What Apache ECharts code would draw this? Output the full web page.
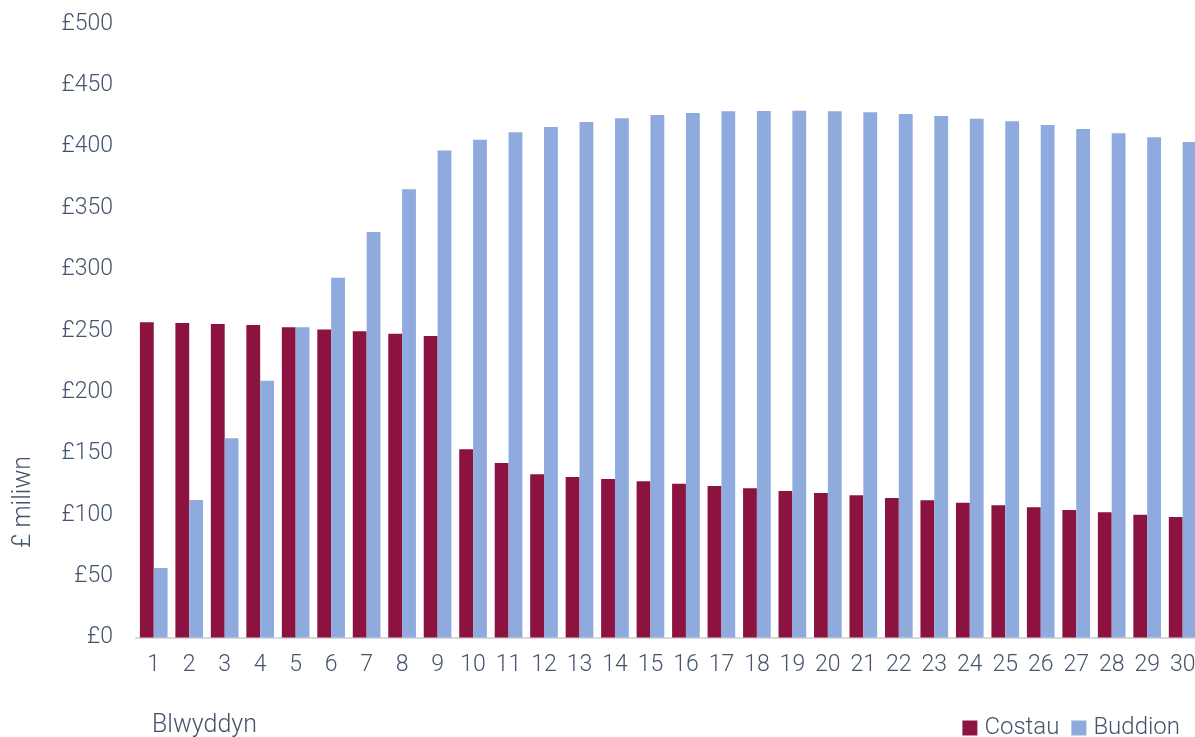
<!DOCTYPE html>
<html>
<head>
<meta charset="utf-8">
<script src="https://cdn.jsdelivr.net/npm/echarts@6/dist/echarts.min.js"></script>
<style>
  html, body { margin: 0; padding: 0; background: #fff; }
  #chart { width: 1195px; height: 737px; }
</style>
</head>
<body>
<div id="chart"></div>
<script>
var years = ['1','2','3','4','5','6','7','8','9','10','11','12','13','14','15',
	'16','17','18','19','20','21','22','23','24','25','26','27','28','29','30'];
var costau = [257, 256.3, 255.5, 254.7, 252.8, 251, 249.6, 247.6, 245.7, 153.4,
	142.2, 133, 130.8, 129.2, 127.3, 125.3, 123.5, 121.6, 119.4, 117.8,
	115.9, 113.7, 111.8, 109.9, 107.7, 106.1, 103.9, 102, 100.1, 98.2];
var buddion = [56.6, 112, 162.3, 209.3, 252.8, 293.2, 330.5, 365.3, 397, 405.7,
	411.7, 416, 420.1, 423.1, 425.8, 427.5, 428.8, 429.1, 429.3, 428.8,
	428, 426.7, 425, 422.8, 420.7, 417.7, 414.4, 411, 407.7, 403.8];
var seriesNames = ['Costau', 'Buddion'];

var textColor = '#44546A';
var font = 'Roboto';

var chart = echarts.init(document.getElementById('chart'));

var option = {
	animation: false,
	color: ['#8C1240', '#8FABDD'],
	textStyle: { fontFamily: font, fontWeight: 300, color: textColor },
	grid: { left: 136, right: -5.4, top: 24, bottom: 99.5, containLabel: false, outerBoundsMode: 'none' },
	legend: {
		data: seriesNames,
		right: 10,
		top: 711,
		icon: 'rect',
		itemWidth: 15,
		itemHeight: 15,
		itemGap: 12,
		textStyle: { fontSize: 24, fontFamily: font, fontWeight: 300, color: textColor, padding: [0, 0, 0, 2] }
	},
	xAxis: {
		type: 'category',
		data: years,
		axisLine: { lineStyle: { color: '#D9D9D9', width: 2 } },
		axisTick: { show: false },
		axisLabel: { fontSize: 23, color: textColor, fontWeight: 300, margin: 16, interval: 0 }
	},
	yAxis: {
		type: 'value',
		min: 0,
		max: 500,
		interval: 50,
		splitLine: { show: false },
		axisLine: { show: false },
		axisTick: { show: false },
		axisLabel: {
			fontSize: 23, color: textColor, fontWeight: 300, margin: 23,
			formatter: function (v) { return '£' + v; }
		}
	},
	graphic: [
		{
			type: 'text', left: 152, top: 713,
			style: { text: 'Blwyddyn', fontSize: 25, fontFamily: font, fontWeight: 300, fill: textColor }
		},
		{
			type: 'text', x: 24, y: 502, rotation: Math.PI / 2,
			style: { text: '£ miliwn', fontSize: 25, fontFamily: font, fontWeight: 300, fill: textColor,
				align: 'center', verticalAlign: 'middle' }
		}
	],
	series: [
		{ name: seriesNames[0], type: 'bar', data: costau, barGap: '0%', barCategoryGap: '22%' },
		{ name: seriesNames[1], type: 'bar', data: buddion, barGap: '0%', barCategoryGap: '22%' }
	]
};

chart.setOption(option);
</script>
</body>
</html>
